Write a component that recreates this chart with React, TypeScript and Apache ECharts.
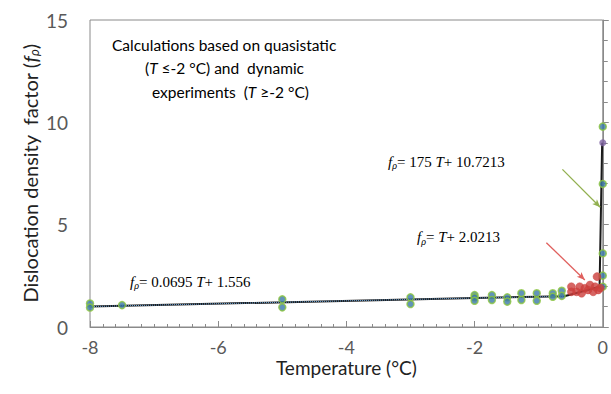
import React, { useEffect, useRef } from "react";
import * as echarts from "echarts";

// ---- data ----
const quasiT = [-8, -8, -7.5, -5, -5, -3, -3, -2, -2, -2];
const quasiV = [1.15, 0.95, 1.07, 1.35, 0.96, 1.45, 1.12, 1.56, 1.45, 1.28];

const dynT = [-1.73, -1.73, -1.49, -1.49, -1.27, -1.27, -1.03, -1.03, -0.78, -0.78, -0.64, -0.64, 0, 0, 0, 0, 0];
const dynV = [1.56, 1.32, 1.45, 1.24, 1.65, 1.32, 1.65, 1.28, 1.65, 1.48, 1.77, 1.52, 9.79, 6.99, 3.6, 2.51, 1.97];

const purpleT = [0];
const purpleV = [9.0];

const redT = [-0.49, -0.49, -0.41, -0.36, -0.33, -0.28, -0.23, -0.2, -0.15, -0.12, -0.09, -0.07, -0.04];
const redV = [1.72, 1.97, 1.72, 1.97, 1.65, 1.89, 1.81, 2.05, 1.72, 1.97, 2.46, 1.81, 1.9];

const fitT = [-8, -2, -0.6, -0.05, -0.0098];
const fitV = [1.0, 1.417, 1.5, 1.97, 9.0];

const dotT = [-8, -2, -0.6];
const dotV = [1.0, 1.417, 1.5];

const xTicks = [-8, -6, -4, -2, 0];
const yTicks = [0, 5, 10, 15];

const greenArrow = [[-0.63, 7.7], [-0.04, 5.85]];
const redArrow = [[-0.88, 4.12], [-0.28, 2.3]];

const eqSteep = ["175", "10.7213"];
const eqMid = ["", "2.0213"];
const eqLow = ["0.0695", "1.556"];

const zip = (a: number[], b: number[]) => a.map((v, i) => [v, b[i]]);

const LABEL_FONT = "Lato";
const SERIF = "Liberation Serif";

const eqRich = {
  f: { fontFamily: SERIF, fontStyle: "italic", fontSize: 15, color: "#222", lineHeight: 18 },
  s: { fontFamily: SERIF, fontStyle: "italic", fontSize: 10, color: "#222", lineHeight: 10, verticalAlign: "bottom", padding: [6, 0, 0, 0] },
  n: { fontFamily: SERIF, fontSize: 15, color: "#222", lineHeight: 18 },
  t: { fontFamily: SERIF, fontStyle: "italic", fontSize: 15, color: "#222", lineHeight: 18 },
};

const eqText = (coef: string, c: string) =>
  `{f|f}{s|ρ}{n|= ${coef} }{t|T}{n|+ ${c}}`;

export default function App() {
  const ref = useRef<HTMLDivElement>(null);
  useEffect(() => {
    document.body.style.margin = "0";
    const chart = echarts.init(ref.current!, null, { renderer: "svg" });
    const annRich = {
      a: { fontFamily: LABEL_FONT, fontSize: 15.5, color: "#333" },
      i: { fontFamily: LABEL_FONT, fontSize: 15.5, color: "#333", fontStyle: "italic" },
    };
    chart.setOption({
      animation: false,
      grid: { left: 90, right: 8, top: 20, bottom: 67, show: true, borderColor: "#8a8a8a", borderWidth: 1 },
      xAxis: {
        type: "value",
        min: -8,
        max: 0,
        interval: 2,
        name: "Temperature (°C)",
        nameLocation: "middle",
        nameGap: 31,
        nameMoveOverlap: false,
        nameTextStyle: { fontFamily: LABEL_FONT, fontSize: 19, lineHeight: 19, color: "#222" },
        axisLine: { lineStyle: { color: "#8a8a8a" } },
        axisTick: { inside: true, length: 6, lineStyle: { color: "#8a8a8a" } },
        minorTick: { show: true, splitNumber: 10, length: 3, lineStyle: { color: "#8a8a8a" } },
        splitLine: { show: false },
        axisLabel: {
          margin: 11,
          fontFamily: LABEL_FONT,
          fontSize: 18,
          lineHeight: 18,
          color: "#595959",
          formatter: (v: number) => (xTicks.includes(v) ? String(v) : ""),
        },
      },
      yAxis: {
        type: "value",
        min: 0,
        max: 15,
        interval: 5,
        name: "{a|Dislocation density  factor (}{f|f}{s|ρ}{a|)}",
        nameLocation: "middle",
        nameGap: 50,
        nameMoveOverlap: false,
        nameTextStyle: {
          rich: {
            a: { fontFamily: LABEL_FONT, fontSize: 20, color: "#222" },
            f: { fontFamily: LABEL_FONT, fontSize: 20, color: "#222", fontStyle: "italic" },
            s: { fontFamily: LABEL_FONT, fontSize: 13, color: "#222", fontStyle: "italic", verticalAlign: "bottom", padding: [7, 0, 0, 0] },
          },
        },
        axisLine: { show: true, lineStyle: { color: "#8a8a8a" } },
        axisTick: { show: true, inside: true, length: 6, lineStyle: { color: "#8a8a8a" } },
        minorTick: { show: true, splitNumber: 5, length: 5, lineStyle: { color: "#8a8a8a" } },
        splitLine: { show: false },
        axisLabel: {
          margin: 22,
          fontFamily: LABEL_FONT,
          fontSize: 19,
          color: "#595959",
          formatter: (v: number) => (yTicks.includes(v) ? String(v) : ""),
        },
      },
      series: [
        {
          type: "line",
          data: zip(fitT, fitV),
          symbol: "none",
          lineStyle: { color: "#1a1a1a", width: 2 },
          z: 2,
        },
        {
          type: "line",
          data: zip(dotT, dotV),
          symbol: "none",
          lineStyle: { color: "#6fa8dc", width: 1, type: "dotted" },
          z: 3,
        },
        {
          type: "scatter",
          data: zip(quasiT, quasiV),
          symbolSize: 7,
          clip: false,
          itemStyle: { color: "#3a78a8", borderColor: "#8cc63f", borderWidth: 1.5 },
          z: 4,
        },
        {
          type: "scatter",
          data: zip(dynT, dynV),
          symbolSize: 7,
          clip: false,
          itemStyle: { color: "#3a78a8", borderColor: "#8cc63f", borderWidth: 1.5 },
          z: 4,
        },
        {
          type: "scatter",
          data: zip(redT, redV),
          symbolSize: 8,
          clip: false,
          itemStyle: { color: "#cc3f3c", borderColor: "#cc3f3c", borderWidth: 0.5 },
          z: 5,
        },
        {
          type: "scatter",
          data: zip(purpleT, purpleV),
          symbolSize: 7,
          clip: false,
          itemStyle: { color: "#8064a2" },
          z: 5,
          markLine: {
            silent: true,
            symbol: ["none", "arrow"],
            symbolSize: [5, 8],
            label: { show: false },
            data: [
              [
                { coord: greenArrow[0], lineStyle: { color: "#92b050", width: 1.3, type: "solid" } },
                { coord: greenArrow[1] },
              ],
              [
                { coord: redArrow[0], lineStyle: { color: "#e0605e", width: 1.3, type: "solid" } },
                { coord: redArrow[1] },
              ],
            ],
          },
        },
      ],
      graphic: [
        { type: "text", x: 112, y: 45, style: { text: "{a|Calculations based on quasistatic}", rich: annRich, align: "left", verticalAlign: "middle" } },
        { type: "text", x: 145, y: 68, style: { text: "{a|(}{i|T}{a| ≤-2 °C) and  dynamic}", rich: annRich, align: "left", verticalAlign: "middle" } },
        { type: "text", x: 152, y: 91.5, style: { text: "{a|experiments  (}{i|T}{a| ≥-2 °C)}", rich: annRich, align: "left", verticalAlign: "middle" } },
        { type: "text", x: 388, y: 161.5, style: { text: eqText(eqSteep[0], eqSteep[1]), rich: eqRich, align: "left", verticalAlign: "middle" } },
        { type: "text", x: 417, y: 237, style: { text: "{f|f}{s|ρ}{n|= }{t|T}{n|+ " + eqMid[1] + "}", rich: eqRich, align: "left", verticalAlign: "middle" } },
        { type: "text", x: 130, y: 281.5, style: { text: eqText(eqLow[0], eqLow[1]), rich: eqRich, align: "left", verticalAlign: "middle" } },
      ],
    });
    return () => chart.dispose();
  }, []);
  return <div ref={ref} style={{ width: 611, height: 394 }} />;
}
